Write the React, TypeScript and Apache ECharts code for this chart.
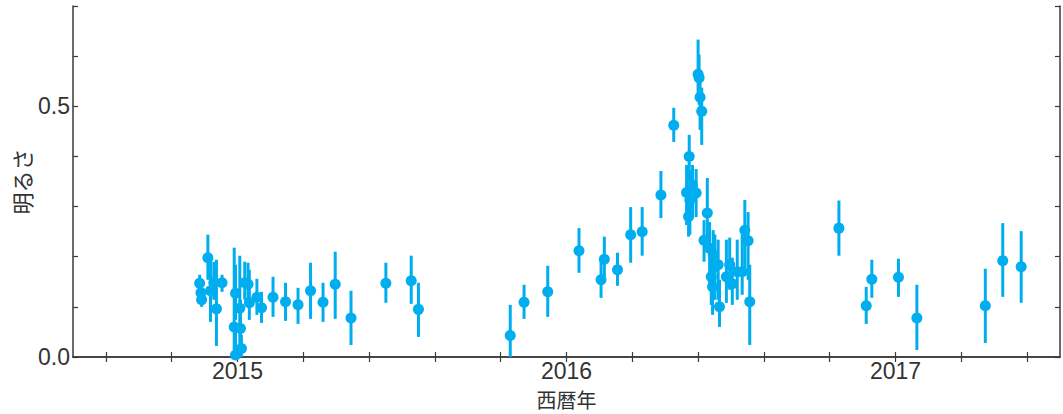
import React, { useEffect, useRef } from "react";
import * as echarts from "echarts";

// Observation epochs (decimal year)
const epochs = [
  2014.885, 2014.889, 2014.891, 2014.910, 2014.918, 2014.928, 2014.936, 2014.953,
  2014.994, 2014.990, 2014.994, 2015.007, 2015.009, 2015.012, 2015.022, 2015.032,
  2015.036, 2015.059, 2015.073, 2015.108, 2015.146, 2015.184, 2015.222, 2015.260,
  2015.297, 2015.345, 2015.451, 2015.528, 2015.550,
  2015.829, 2015.871, 2015.943, 2016.038, 2016.105, 2016.115, 2016.155, 2016.195,
  2016.230, 2016.287, 2016.326,
  2016.373, 2016.365, 2016.375, 2016.371, 2016.383, 2016.394, 2016.400, 2016.403,
  2016.406, 2016.411, 2016.428, 2016.418, 2016.435, 2016.446, 2016.451, 2016.440,
  2016.444, 2016.461, 2016.465, 2016.486, 2016.496, 2016.504, 2016.519, 2016.534,
  2016.542, 2016.552, 2016.557,
  2016.828, 2016.911, 2016.928, 2017.009, 2017.065, 2017.273, 2017.326, 2017.382,
];

// Brightness
const brightness = [
  0.147, 0.128, 0.114, 0.198, 0.132, 0.148, 0.096, 0.148,
  0.127, 0.060, 0.004, 0.097, 0.057, 0.017, 0.148, 0.145,
  0.108, 0.119, 0.098, 0.119, 0.110, 0.104, 0.132, 0.109,
  0.145, 0.078, 0.147, 0.152, 0.095,
  0.043, 0.109, 0.130, 0.212, 0.154, 0.195, 0.174, 0.244,
  0.250, 0.323, 0.462,
  0.400, 0.328, 0.313, 0.280, 0.343, 0.327, 0.564, 0.557,
  0.518, 0.490, 0.287, 0.233, 0.217, 0.204, 0.180, 0.160,
  0.140, 0.184, 0.100, 0.160, 0.184, 0.146, 0.170, 0.170,
  0.253, 0.232, 0.110,
  0.257, 0.102, 0.155, 0.159, 0.078, 0.102, 0.192, 0.180,
];

// Lower end of error bar
const lowerBound = [
  0.130, 0.110, 0.100, 0.154, 0.070, 0.114, 0.022, 0.130,
  0.074, 0.014, 0.000, 0.024, 0.010, 0.000, 0.114, 0.114,
  0.074, 0.084, 0.068, 0.080, 0.072, 0.066, 0.076, 0.070,
  0.076, 0.024, 0.108, 0.106, 0.040,
  0.000, 0.076, 0.080, 0.168, 0.118, 0.154, 0.142, 0.188,
  0.202, 0.277, 0.429,
  0.343, 0.263, 0.244, 0.240, 0.283, 0.279, 0.513, 0.503,
  0.453, 0.423, 0.214, 0.190, 0.144, 0.134, 0.114, 0.104,
  0.084, 0.114, 0.060, 0.108, 0.134, 0.104, 0.114, 0.124,
  0.174, 0.154, 0.024,
  0.202, 0.066, 0.118, 0.120, 0.014, 0.028, 0.120, 0.108,
];

// Upper end of error bar
const upperBound = [
  0.164, 0.148, 0.134, 0.244, 0.198, 0.190, 0.194, 0.164,
  0.184, 0.218, 0.054, 0.202, 0.114, 0.044, 0.190, 0.188,
  0.174, 0.156, 0.130, 0.160, 0.148, 0.138, 0.188, 0.148,
  0.210, 0.132, 0.188, 0.202, 0.148,
  0.104, 0.144, 0.182, 0.257, 0.190, 0.240, 0.208, 0.299,
  0.299, 0.371, 0.497,
  0.443, 0.383, 0.373, 0.333, 0.383, 0.375, 0.633, 0.603,
  0.563, 0.537, 0.357, 0.273, 0.269, 0.253, 0.244, 0.214,
  0.194, 0.234, 0.154, 0.234, 0.238, 0.198, 0.234, 0.244,
  0.313, 0.289, 0.184,
  0.312, 0.140, 0.194, 0.196, 0.144, 0.176, 0.267, 0.251,
];

const xTickValues = [
  2014.6, 2014.8, 2015.0, 2015.2, 2015.4, 2015.6, 2015.8, 2016.0, 2016.2,
  2016.4, 2016.6, 2016.8, 2017.0, 2017.2, 2017.4,
];
const xLabelValues = [2015, 2016, 2017];
const yLabelValues = [0.0, 0.5];

const COLOR = "#00AEEF";
const AXIS_COLOR = "#3a3a3a";
const TEXT_COLOR = "#333333";
const FONT = "'Liberation Sans Narrow', 'Liberation Sans', 'Noto Sans CJK JP', sans-serif";
const CJK_FONT = "'Noto Sans CJK JP', sans-serif";

export default function App() {
  const ref = useRef<HTMLDivElement>(null);

  useEffect(() => {
    if (!ref.current) return;
    const chart = echarts.init(ref.current, undefined, { renderer: "svg" });

    const points = epochs.map((x, i) => [x, brightness[i]]);
    const bars = epochs.map((x, i) => [x, lowerBound[i], upperBound[i]]);

    const isLabelY = (v: number) =>
      yLabelValues.some((l) => Math.abs(l - v) < 1e-6);

    const commonX = {
      type: "value" as const,
      min: 2014.5,
      max: 2017.5,
      splitLine: { show: false },
      axisLine: { show: true, lineStyle: { color: AXIS_COLOR, width: 1.5 } },
      axisTick: {
        show: true,
        inside: true,
        length: 5,
        customValues: xTickValues,
        lineStyle: { color: AXIS_COLOR, width: 1.2 },
      },
    };
    const commonY = {
      type: "value" as const,
      min: 0,
      max: 0.7,
      interval: 0.1,
      splitLine: { show: false },
      axisLine: { show: true, lineStyle: { color: AXIS_COLOR, width: 1.5 } },
      axisTick: {
        show: true,
        inside: true,
        length: 5,
        lineStyle: { color: AXIS_COLOR, width: 1.2 },
      },
    };

    chart.setOption({
      animation: false,
      backgroundColor: "#ffffff",
      grid: {
        left: 73,
        right: 3,
        top: 6,
        bottom: 57,
        containLabel: false,
        outerBoundsMode: "none",
      },
      xAxis: [
        {
          ...commonX,
          position: "bottom",
          name: "西暦年",
          nameLocation: "middle",
          nameGap: 32,
          nameMoveOverlap: false,
          nameTextStyle: {
            fontFamily: CJK_FONT,
            fontSize: 20,
            lineHeight: 20,
            color: TEXT_COLOR,
          },
          axisLabel: {
            show: true,
            customValues: xLabelValues,
            formatter: (v: number) => String(Math.round(v)),
            fontFamily: FONT,
            fontSize: 23,
            color: TEXT_COLOR,
            margin: 2,
          },
        },
        {
          ...commonX,
          position: "top",
          axisLabel: { show: false },
        },
      ],
      yAxis: [
        {
          ...commonY,
          position: "left",
          name: "明るさ",
          nameLocation: "middle",
          nameGap: 41,
          nameRotate: 90,
          nameMoveOverlap: false,
          nameTextStyle: { fontFamily: CJK_FONT, fontSize: 22, color: TEXT_COLOR },
          axisLabel: {
            show: true,
            formatter: (v: number) => (isLabelY(v) ? v.toFixed(1) : ""),
            fontFamily: FONT,
            fontSize: 23,
            color: TEXT_COLOR,
            margin: 3,
          },
        },
        {
          ...commonY,
          position: "right",
          axisLabel: { show: false },
        },
      ],
      series: [
        {
          type: "custom",
          xAxisIndex: 0,
          yAxisIndex: 0,
          data: bars,
          encode: { x: 0, y: [1, 2] },
          renderItem: (params: any, api: any) => {
            const x = api.value(0);
            const lo = api.coord([x, api.value(1)]);
            const hi = api.coord([x, api.value(2)]);
            return {
              type: "line",
              shape: { x1: lo[0], y1: lo[1], x2: hi[0], y2: hi[1] },
              style: { stroke: COLOR, lineWidth: 3 },
            };
          },
          z: 2,
        },
        {
          type: "scatter",
          xAxisIndex: 0,
          yAxisIndex: 0,
          data: points,
          symbol: "circle",
          symbolSize: 11,
          itemStyle: { color: COLOR, opacity: 1 },
          z: 3,
        },
      ],
    });

    return () => chart.dispose();
  }, []);

  return (
    <div
      ref={ref}
      style={{ position: "fixed", left: 0, top: 0, width: 1063, height: 414, background: "#fff" }}
    />
  );
}
